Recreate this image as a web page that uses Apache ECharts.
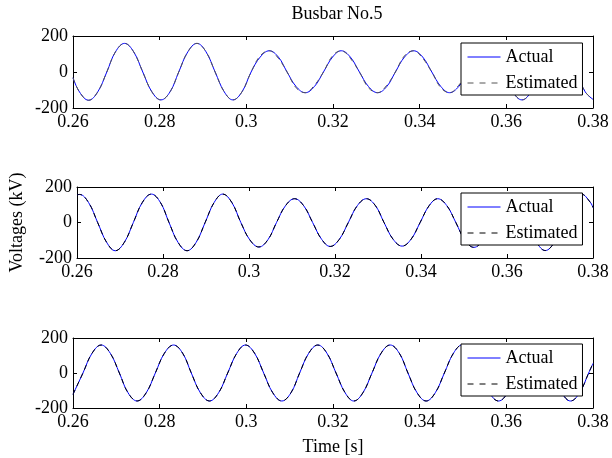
<!DOCTYPE html>
<html>
<head>
<meta charset="utf-8">
<script src="https://cdn.jsdelivr.net/npm/echarts@6/dist/echarts.min.js"></script>
<style>
  html, body { margin: 0; background: #fff; }
  #chart { width: 612px; height: 458px; }
</style>
</head>
<body>
<div id="chart"></div>
<script>
// Busbar No.5 (time in s, voltage in kV)
const t1 = [0.2600,0.2615,0.2636,0.2657,0.2678,0.2698,0.2719,0.2740,0.2761,0.2782,0.2803,0.2824,0.2844,0.2865,0.2886,0.2907,0.2928,0.2949,0.2969,0.2990,0.3011,0.3032,0.3053,0.3074,0.3094,0.3115,0.3136,0.3157,0.3178,0.3199,0.3219,0.3240,0.3261,0.3282,0.3303,0.3324,0.3344,0.3365,0.3386,0.3407,0.3428,0.3449,0.3469,0.3490,0.3511,0.3532,0.3553,0.3574,0.3594,0.3615,0.3636,0.3657,0.3678,0.3699,0.3719,0.3740,0.3761,0.3782,0.3800];
const actual1 = [-32,-111,-157,-111,0,112,159,112,0,-110,-155,-110,0,112,159,112,0,-110,-155,-110,0,83,118,83,0,-81,-115,-81,0,83,118,83,0,-81,-115,-81,0,83,118,83,0,-81,-115,-81,0,99,140,99,0,-110,-155,-110,0,110,155,110,0,-110,-152];
const estimated1 = [-32,-111,-157,-111,0,112,159,112,0,-110,-155,-110,0,112,159,112,0,-110,-155,-110,0,90,118,76,0,-88,-115,-74,0,90,118,76,0,-88,-115,-74,0,90,118,76,0,-88,-115,-74,0,99,140,99,0,-110,-155,-110,0,110,155,110,0,-110,-152];

const t2 = [0.2600,0.2606,0.2627,0.2648,0.2669,0.2689,0.2710,0.2731,0.2752,0.2773,0.2794,0.2814,0.2835,0.2856,0.2877,0.2898,0.2919,0.2939,0.2960,0.2981,0.3002,0.3023,0.3044,0.3064,0.3085,0.3106,0.3127,0.3148,0.3169,0.3189,0.3210,0.3231,0.3252,0.3273,0.3294,0.3314,0.3335,0.3356,0.3377,0.3398,0.3419,0.3439,0.3460,0.3481,0.3502,0.3523,0.3544,0.3564,0.3585,0.3606,0.3627,0.3648,0.3669,0.3689,0.3710,0.3731,0.3752,0.3773,0.3794,0.3800];
const actual2 = [156,158,112,0,-112,-159,-112,0,113,160,113,0,-112,-159,-112,0,113,160,113,0,-98,-138,-97,0,95,134,95,0,-95,-135,-95,0,95,134,95,0,-94,-133,-94,0,95,134,95,0,-99,-140,-99,0,110,155,110,0,-112,-158,-112,0,113,160,113,84];
const estimated2 = [156,158,112,0,-112,-159,-112,0,113,160,113,0,-112,-159,-112,0,113,160,113,0,-98,-138,-97,0,95,134,95,0,-95,-135,-95,0,95,134,95,0,-94,-133,-94,0,95,134,95,0,-99,-140,-99,0,110,155,110,0,-112,-158,-112,0,113,160,113,84];

const t3 = [0.2600,0.2623,0.2644,0.2665,0.2686,0.2707,0.2727,0.2748,0.2769,0.2790,0.2811,0.2832,0.2853,0.2873,0.2894,0.2915,0.2936,0.2957,0.2978,0.2998,0.3019,0.3040,0.3061,0.3082,0.3103,0.3123,0.3144,0.3165,0.3186,0.3207,0.3228,0.3248,0.3269,0.3290,0.3311,0.3332,0.3353,0.3373,0.3394,0.3415,0.3436,0.3457,0.3478,0.3498,0.3519,0.3540,0.3561,0.3582,0.3603,0.3623,0.3644,0.3665,0.3686,0.3707,0.3728,0.3748,0.3769,0.3790,0.3800];
const actual3 = [-122,0,113,160,113,0,-113,-160,-113,0,113,160,113,0,-113,-160,-113,0,113,160,113,0,-113,-160,-113,0,113,160,113,0,-113,-160,-113,0,113,160,113,0,-113,-160,-113,0,113,160,113,0,-113,-160,-113,0,113,160,113,0,-113,-160,-113,0,55];
const estimated3 = [-122,0,113,160,113,0,-113,-160,-113,0,113,160,113,0,-113,-160,-113,0,113,160,113,0,-113,-160,-113,0,113,160,113,0,-113,-160,-113,0,113,160,113,0,-113,-160,-113,0,113,160,113,0,-113,-160,-113,0,113,160,113,0,-113,-160,-113,0,55];

const font = 'Liberation Serif';
const chart = echarts.init(document.getElementById('chart'));

const panels = [
  { t: t1, actual: actual1, estimated: estimated1, estColor: '#555', top: 36, height: 72, legendTop: 43 },
  { t: t2, actual: actual2, estimated: estimated2, estColor: '#000', top: 187, height: 71, legendTop: 193 },
  { t: t3, actual: actual3, estimated: estimated3, estColor: '#000', top: 338, height: 70, legendTop: 344 }
];

function pairs(t, v) {
  return t.map((x, i) => [x, v[i]]);
}

const grid = [], xAxis = [], yAxis = [], series = [], legend = [];

panels.forEach((p, i) => {
  const tick = { show: true, inside: true, length: 4, lineStyle: { color: '#000' } };
  const line = { show: true, onZero: false, lineStyle: { color: '#000', width: 1 } };
  const label = { color: '#000', fontFamily: font, fontSize: 18 };

  grid.push({ left: 73, right: 19, top: p.top, height: p.height });

  xAxis.push({
    type: 'value', gridIndex: i, min: 0.26, max: 0.38, interval: 0.02,
    axisLine: line, axisTick: tick, splitLine: { show: false },
    axisLabel: Object.assign({ margin: 5 }, label),
    name: i === 2 ? 'Time [s]' : '', nameLocation: 'middle', nameGap: 30,
    nameTextStyle: label
  });
  xAxis.push({
    type: 'value', gridIndex: i, position: 'top', min: 0.26, max: 0.38, interval: 0.02,
    axisLine: line, axisTick: tick, splitLine: { show: false }, axisLabel: { show: false }
  });
  yAxis.push({
    type: 'value', gridIndex: i, min: -200, max: 200, interval: 200,
    axisLine: line, axisTick: tick, splitLine: { show: false },
    axisLabel: Object.assign({ margin: 5 }, label),
    name: i === 1 ? 'Voltages (kV)' : '', nameLocation: 'middle', nameGap: 51,
    nameTextStyle: label
  });
  yAxis.push({
    type: 'value', gridIndex: i, position: 'right', min: -200, max: 200, interval: 200,
    axisLine: line, axisTick: tick, splitLine: { show: false }, axisLabel: { show: false }
  });

  series.push({
    name: 'Actual' + i, type: 'line', xAxisIndex: 2 * i, yAxisIndex: 2 * i,
    data: pairs(p.t, p.actual), smooth: 0.4, symbol: 'none',
    lineStyle: { color: '#0000ff', width: 1 }, itemStyle: { color: '#0000ff' }
  });
  series.push({
    name: 'Estimated' + i, type: 'line', xAxisIndex: 2 * i, yAxisIndex: 2 * i,
    data: pairs(p.t, p.estimated), smooth: 0.4, symbol: 'none',
    lineStyle: { color: p.estColor, width: 1, type: [5, 4] }, itemStyle: { color: p.estColor }
  });

  legend.push({
    data: [
      { name: 'Actual' + i },
      { name: 'Estimated' + i, lineStyle: { width: 1, type: [6, 6] } }
    ],
    formatter: name => name.replace(/\d+$/, ''),
    orient: 'vertical', left: 461, top: p.legendTop,
    padding: [5, 5, 3, 6], itemWidth: 33, itemHeight: 14, itemGap: 8,
    itemStyle: { opacity: 0 },
    lineStyle: { width: 1 },
    backgroundColor: '#fff', borderColor: '#000', borderWidth: 1,
    textStyle: { color: '#000', fontFamily: font, fontSize: 18 },
    selectedMode: false
  });
});

chart.setOption({
  animation: false,
  backgroundColor: '#fff',
  title: {
    text: 'Busbar No.5', left: 332, top: 0, textAlign: 'center',
    textStyle: { color: '#000', fontFamily: font, fontSize: 18, fontWeight: 'normal' }
  },
  grid, xAxis, yAxis, series, legend
});
</script>
</body>
</html>
